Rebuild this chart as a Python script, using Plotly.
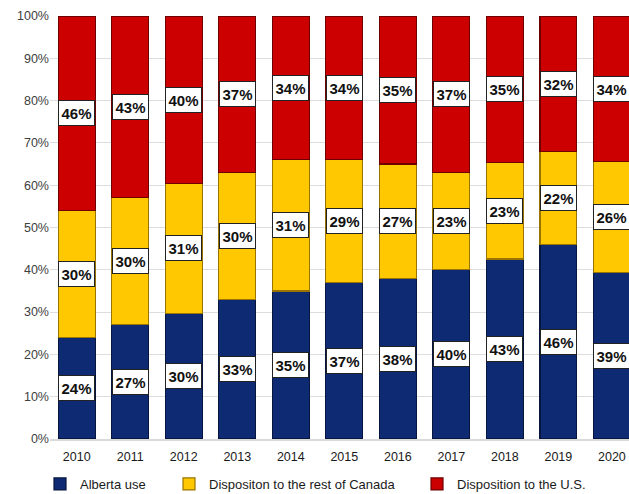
import plotly.graph_objects as go

years = ["2010", "2011", "2012", "2013", "2014", "2015", "2016", "2017", "2018", "2019", "2020"]
alberta_use = [24, 27, 30, 33, 35, 37, 38, 40, 43, 46, 39]
rest_of_canada = [30, 30, 31, 30, 31, 29, 27, 23, 23, 22, 26]
to_us = [46, 43, 40, 37, 34, 34, 35, 37, 35, 32, 34]

series = [
    ("Alberta use", alberta_use, "#0E2A72", "#06163F", "legend"),
    ("Dispositon to the rest of Canada", rest_of_canada, "#FFC800", "#9A7400", "legend2"),
    ("Disposition to the U.S.", to_us, "#CC0000", "#6E0000", "legend3"),
]

FONT = "Liberation Sans, Arial, sans-serif"
W, H = 629, 494
xpos = list(range(len(years)))

fig = go.Figure()
for name, vals, col, edge, lg in series:
    fig.add_trace(go.Bar(
        x=xpos, y=vals, name=name,
        marker=dict(color=col, line=dict(color=edge, width=1.2)),
        width=0.69, legend=lg, hoverinfo="skip",
    ))

# labels at the middle of each normalised segment
annotations = []
for i in xpos:
    total = alberta_use[i] + rest_of_canada[i] + to_us[i]
    base = 0.0
    for name, vals, col, edge, lg in series:
        h = vals[i] / total * 100
        annotations.append(dict(
            x=i, y=base + h / 2, xref="x", yref="y",
            text="<b>%d%%</b>" % vals[i], showarrow=False,
            font=dict(family=FONT, size=15, color="#111111"),
            bgcolor="white", bordercolor="#222222", borderwidth=1,
            borderpad=1, width=33, height=22,
        ))
        base += h

fig.update_layout(
    barmode="stack", barnorm="percent",
    width=W, height=H,
    margin=dict(l=50, r=0, t=16, b=55, autoexpand=False),
    paper_bgcolor="white", plot_bgcolor="white",
    font=dict(family=FONT, size=12.5, color="#404040"),
    annotations=annotations,
    xaxis=dict(
        tickmode="array", tickvals=xpos, ticktext=years,
        range=[-0.5, 10.32], showgrid=False, showline=True,
        linecolor="#D9D9D9", linewidth=2, ticks="", zeroline=False,
        ticklabelstandoff=5, ticklabeloverflow="allow",
        tickfont=dict(family=FONT, size=12.5, color="#1A1A1A"),
    ),
    yaxis=dict(
        range=[0, 100], dtick=10, ticksuffix="%", showgrid=True,
        gridcolor="#DDDDDD", gridwidth=1, zeroline=False, ticks="",
        tickfont=dict(family=FONT, size=12.5, color="#404040"),
    ),
    showlegend=True,
)

leg_common = dict(orientation="h", xref="container", yref="container",
                  xanchor="left", yanchor="middle", y=1 - 484 / H,
                  font=dict(family=FONT, size=13, color="#1A1A1A"),
                  bgcolor="rgba(0,0,0,0)", itemwidth=30)
fig.update_layout(
    legend=dict(x=40 / W, **leg_common),
    legend2=dict(x=169 / W, **leg_common),
    legend3=dict(x=417 / W, **leg_common),
)

fig.write_html(
    "out.html",
    config={"displayModeBar": False},
    post_script="document.body.style.margin='0px';document.body.style.overflow='hidden';",
)
